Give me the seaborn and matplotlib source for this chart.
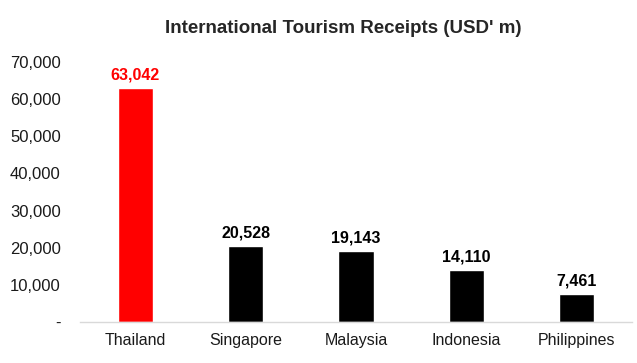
import matplotlib
matplotlib.use("Agg")
import matplotlib.pyplot as plt
import seaborn as sns
import pandas as pd

countries = ["Thailand", "Singapore", "Malaysia", "Indonesia", "Philippines"]
receipts = [63042, 20528, 19143, 14110, 7461]
bar_colors = ["#ff0000", "#000000", "#000000", "#000000", "#000000"]
label_colors = ["#ff0000", "#000000", "#000000", "#000000", "#000000"]
y_ticks = [0, 10000, 20000, 30000, 40000, 50000, 60000, 70000]

sns.set_style("white")
plt.rcParams["font.family"] = ["Liberation Sans", "DejaVu Sans"]

df = pd.DataFrame({"country": countries, "receipts": receipts})

fig = plt.figure(figsize=(6.37, 3.63), dpi=100)
ax = fig.add_axes([0.126, 0.113, 0.866, 0.716])

sns.barplot(data=df, x="country", y="receipts", hue="country",
            palette=bar_colors, width=0.32, legend=False, ax=ax,
            saturation=1)

for i, (v, c) in enumerate(zip(receipts, label_colors)):
    ax.text(i, v + 1500, f"{v:,}", ha="center", va="bottom",
            fontsize=11.5, fontweight="bold", color=c)

ax.set_ylim(0, 70000)
ax.set_xlim(-0.5, 4.5)
ax.set_yticks(y_ticks)
ax.set_yticklabels(["-"] + [f"{t:,}" for t in y_ticks[1:]], fontsize=12, color="#1a1a1a")
ax.tick_params(axis="x", labelsize=11.5, colors="#1a1a1a", length=0, pad=8)
ax.tick_params(axis="y", length=0, pad=14)
ax.set_xlabel("")
ax.set_ylabel("")
for s in ["top", "right", "left"]:
    ax.spines[s].set_visible(False)
ax.spines["bottom"].set_color("#d9d9d9")
ax.spines["bottom"].set_linewidth(1)

fig.text(0.539, 0.922, "International Tourism Receipts (USD' m)",
         ha="center", va="center", fontsize=13.5, fontweight="bold")

fig.savefig("out.png", dpi=100)
